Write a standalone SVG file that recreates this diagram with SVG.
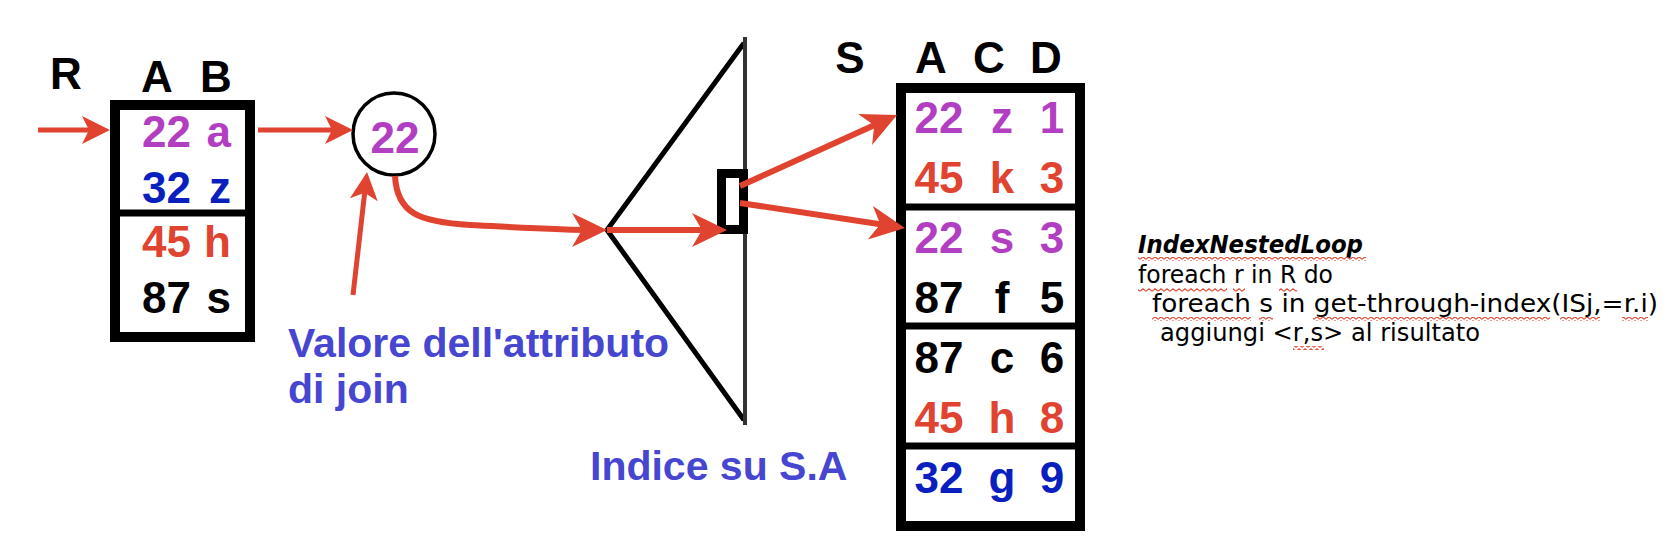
<svg xmlns="http://www.w3.org/2000/svg" width="1680" height="560" viewBox="0 0 1680 560">
<defs>
<style>
.t{font-family:"Liberation Sans",Arial,sans-serif;font-weight:bold;font-size:44px}
.p{fill:#B23FC2}.r{fill:#E0432F}.b{fill:#0B1FBF}.k{fill:#000}
.lbl{font-family:"Liberation Sans",Arial,sans-serif;font-weight:bold;font-size:41px;fill:#4646D0}
.code{font-family:"DejaVu Sans",sans-serif;font-size:25px;fill:#000}
.tbl{fill:#fff;stroke:#000;stroke-width:10}
.div{stroke:#000;stroke-width:7}
.arr{fill:none;stroke:#E0432F;stroke-width:6;marker-end:url(#ah)}
.arrs{fill:none;stroke:#E0432F;stroke-width:5;marker-end:url(#ahs)}
.sq{fill:url(#wave)}
</style>
<marker id="ah" markerUnits="userSpaceOnUse" viewBox="-26 -18 38 36" refX="0" refY="0" markerWidth="38" markerHeight="36" orient="auto">
<path d="M10,0 L-25,-17 L-15,0 L-25,17 Z" fill="#E0432F"/>
</marker>
<marker id="ahs" markerUnits="userSpaceOnUse" viewBox="-20 -15 32 30" refX="0" refY="0" markerWidth="32" markerHeight="30" orient="auto">
<path d="M10,0 L-18,-14 L-11,0 L-18,14 Z" fill="#E0432F"/>
</marker>
<pattern id="wave" width="6" height="4" patternUnits="userSpaceOnUse">
<path d="M0,3.2 L3,0.8 L6,3.2" fill="none" stroke="#E0503C" stroke-width="1.2"/>
</pattern>
</defs>
<rect width="1680" height="560" fill="#fff"/>

<g id="R">
<text class="t k" x="50" y="89">R</text>
<text class="t k" x="157" y="92" text-anchor="middle">A</text>
<text class="t k" x="216" y="92" text-anchor="middle">B</text>
<rect class="tbl" x="115" y="105" width="135" height="232"/>
<line class="div" x1="115" y1="213" x2="250" y2="213"/>
<text class="t p" x="142" y="147">22</text><text class="t p" x="231" y="147" text-anchor="end">a</text>
<text class="t b" x="142" y="203">32</text><text class="t b" x="231" y="203" text-anchor="end">z</text>
<text class="t r" x="142" y="257">45</text><text class="t r" x="231" y="257" text-anchor="end">h</text>
<text class="t k" x="142" y="313">87</text><text class="t k" x="231" y="313" text-anchor="end">s</text>
</g>

<g id="value">
<circle cx="394" cy="134" r="41" fill="#fff" stroke="#000" stroke-width="3.5"/>
<text class="t p" x="395" y="153" text-anchor="middle">22</text>
</g>

<g id="label-join">
<text class="lbl" x="288" y="357">Valore dell'attributo</text>
<text class="lbl" x="288" y="403">di join</text>
</g>

<g id="index">
<polyline points="744,43 607,230 744,420" fill="none" stroke="#000" stroke-width="5"/>
<line x1="745" y1="37" x2="745" y2="425" stroke="#333" stroke-width="4"/>
<rect x="721.5" y="173.5" width="22" height="56" fill="#fff" stroke="#000" stroke-width="9"/>
<text class="lbl" x="590" y="480">Indice su S.A</text>
</g>

<g id="S">
<text class="t k" x="850" y="73" text-anchor="middle">S</text>
<text class="t k" x="931" y="73" text-anchor="middle">A</text>
<text class="t k" x="989" y="73" text-anchor="middle">C</text>
<text class="t k" x="1046" y="73" text-anchor="middle">D</text>
<rect class="tbl" x="901" y="88" width="179" height="438"/>
<line class="div" x1="901" y1="207" x2="1080" y2="207"/>
<line class="div" x1="901" y1="326" x2="1080" y2="326"/>
<line class="div" x1="901" y1="446" x2="1080" y2="446"/>
<g text-anchor="middle">
<text class="t p" x="939" y="133">22</text><text class="t p" x="1002" y="133">z</text><text class="t p" x="1052" y="133">1</text>
<text class="t r" x="939" y="193">45</text><text class="t r" x="1002" y="193">k</text><text class="t r" x="1052" y="193">3</text>
<text class="t p" x="939" y="253">22</text><text class="t p" x="1002" y="253">s</text><text class="t p" x="1052" y="253">3</text>
<text class="t k" x="939" y="313">87</text><text class="t k" x="1002" y="313">f</text><text class="t k" x="1052" y="313">5</text>
<text class="t k" x="939" y="373">87</text><text class="t k" x="1002" y="373">c</text><text class="t k" x="1052" y="373">6</text>
<text class="t r" x="939" y="433">45</text><text class="t r" x="1002" y="433">h</text><text class="t r" x="1052" y="433">8</text>
<text class="t b" x="939" y="493">32</text><text class="t b" x="1002" y="493">g</text><text class="t b" x="1052" y="493">9</text>
</g>
</g>

<g id="code">
<text class="code" x="1138" y="253" font-weight="bold" font-style="italic" textLength="225" lengthAdjust="spacingAndGlyphs">IndexNestedLoop</text>
<text class="code" x="1138" y="283" textLength="195" lengthAdjust="spacingAndGlyphs">foreach r in R do</text>
<text class="code" x="1152" y="312" textLength="506" lengthAdjust="spacingAndGlyphs">foreach s in get-through-index(ISj,=r.i)</text>
<text class="code" x="1160" y="341" textLength="320" lengthAdjust="spacingAndGlyphs">aggiungi &lt;r,s&gt; al risultato</text>
<rect class="sq" x="1138" y="257" width="228" height="4"/>
<rect class="sq" x="1138" y="288" width="89" height="4"/>
<rect class="sq" x="1233" y="288" width="12" height="4"/>
<rect class="sq" x="1279" y="288" width="18" height="4"/>
<rect class="sq" x="1152" y="317" width="99" height="4"/>
<rect class="sq" x="1259" y="317" width="14" height="4"/>
<rect class="sq" x="1313" y="317" width="237" height="4"/>
<rect class="sq" x="1560" y="317" width="40" height="4"/>
<rect class="sq" x="1622" y="317" width="26" height="4"/>
<rect class="sq" x="1293" y="346" width="31" height="4"/>
</g>

<g id="connectors">
<path class="arrs" d="M38,130 H100"/>
<path class="arrs" d="M258,130 H343"/>
<path class="arrs" d="M353,295 L365.9,181.9"/>
<path class="arr" d="M395,176 C397,214 420,222 470,225 C530,228 560,230 597,230"/>
<path class="arr" d="M607,230 H717" stroke-width="7"/>
<path class="arr" d="M740,186 L887.9,119.1"/>
<path class="arr" d="M740,203 L895.1,226.5"/>
</g>
</svg>
